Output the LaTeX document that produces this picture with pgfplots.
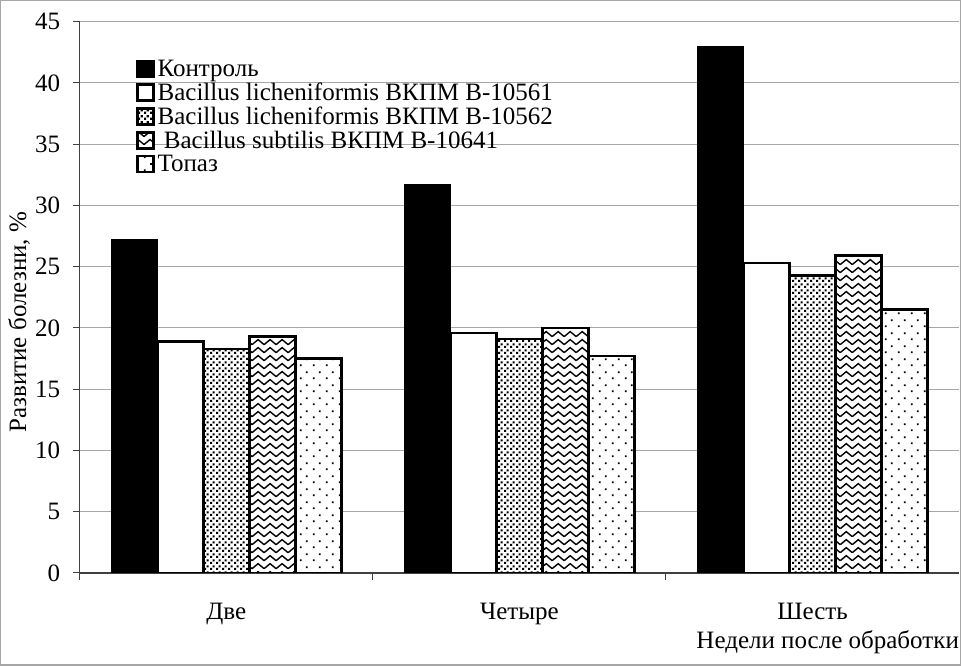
\documentclass[border=0pt]{standalone}
\usepackage{pgfplots}
\pgfplotsset{compat=1.18}
\usetikzlibrary{patterns}
\usepackage{fontspec}
\setmainfont{Liberation Serif}

\pgfdeclarepatternformonly{densedots}{\pgfqpoint{0pt}{0pt}}{\pgfqpoint{6pt}{6pt}}{\pgfqpoint{6pt}{6pt}}{%
  \pgfpathrectangle{\pgfqpoint{0pt}{0pt}}{\pgfqpoint{2.5pt}{2.5pt}}%
  \pgfpathrectangle{\pgfqpoint{3pt}{3pt}}{\pgfqpoint{2.5pt}{2.5pt}}%
  \pgfusepath{fill}}
\pgfdeclarepatternformonly{herring}{\pgfqpoint{-1pt}{-1pt}}{\pgfqpoint{13pt}{9pt}}{\pgfqpoint{12pt}{8pt}}{%
  \pgfsetlinewidth{1.4pt}%
  \pgfpathmoveto{\pgfqpoint{0pt}{1pt}}\pgfpathlineto{\pgfqpoint{6pt}{6pt}}\pgfpathlineto{\pgfqpoint{12pt}{1pt}}%
  \pgfusepath{stroke}}
\pgfdeclarepatternformonly{sparsedots}{\pgfqpoint{0pt}{0pt}}{\pgfqpoint{13pt}{13pt}}{\pgfqpoint{13pt}{13pt}}{%
  \pgfpathrectangle{\pgfqpoint{1pt}{1pt}}{\pgfqpoint{1.7pt}{1.7pt}}%
  \pgfpathrectangle{\pgfqpoint{7.5pt}{7.5pt}}{\pgfqpoint{1.7pt}{1.7pt}}%
  \pgfusepath{fill}}

\begin{document}
\begin{tikzpicture}
\begin{axis}[
  scale only axis, width=879pt, height=551pt,
  xmin=0.5, xmax=3.5, ymin=0, ymax=45,
  ytick={0,5,...,45},
  ymajorgrids, grid style={gray!70, line width=1pt},
  axis x line*=bottom, axis y line*=left,
  axis line style={line width=1.2pt, gray!50!black, -},
  tick style={gray!50!black, line width=1pt},
  tick align=outside, major tick length=7pt,
  xtick={0.5,1.5,2.5}, xticklabels={},
  extra x ticks={1,2,3}, extra x tick labels={Две,Четыре,Шесть},
  extra x tick style={major tick length=0pt, xticklabel style={yshift=-27pt}},
  ybar=0pt, bar width=46pt,
  tick label style={font=\fontsize{25}{25}\selectfont},
  yticklabel style={xshift=-9pt},
  /pgf/number format/assume math mode=true,
  ylabel={Развитие болезни, \%},
  xlabel={Недели после обработки},
  label style={font=\fontsize{25}{25}\selectfont},
  ylabel style={at={(axis description cs:-0.069,0.455)}, anchor=center},
  xlabel style={at={(axis description cs:1,0)}, anchor=north east, yshift=-57pt, inner sep=0pt},
  legend style={draw=none, fill=none, at={(0.064,0.932)}, anchor=north west,
    font=\fontsize{25}{25}\selectfont, row sep=4pt, inner sep=0pt,
    nodes={inner ysep=0.5pt, inner xsep=3pt}},
  legend cell align=left,
  legend image code/.code={\draw[#1, line width=2.4pt] (1pt,-8pt) rectangle (17pt,8pt);},
]
\addplot[fill=black, draw=black, line width=1pt] coordinates {(1,27.2) (2,31.7) (3,43.0)};
\addplot[fill=white, draw=black, line width=2.5pt] coordinates {(1,18.9) (2,19.6) (3,25.3)};
\addplot[draw=black, line width=2.5pt, preaction={fill=white}, pattern=densedots] coordinates {(1,18.3) (2,19.1) (3,24.3)};
\addplot[draw=black, line width=2.5pt, preaction={fill=white}, pattern=herring] coordinates {(1,19.3) (2,20.0) (3,25.9)};
\addplot[draw=black, line width=2.5pt, preaction={fill=white}, pattern=sparsedots] coordinates {(1,17.5) (2,17.7) (3,21.5)};
\legend{Контроль, Bacillus licheniformis ВКПМ В-10561, Bacillus licheniformis ВКПМ В-10562, {\ Bacillus subtilis ВКПМ В-10641}, Топаз}
\end{axis}
\draw[gray!70, line width=1.5pt] ([shift={(-79pt,-92pt)}]current axis.south west) rectangle ([shift={(1.2pt,21pt)}]current axis.north east);
\end{tikzpicture}
\end{document}
